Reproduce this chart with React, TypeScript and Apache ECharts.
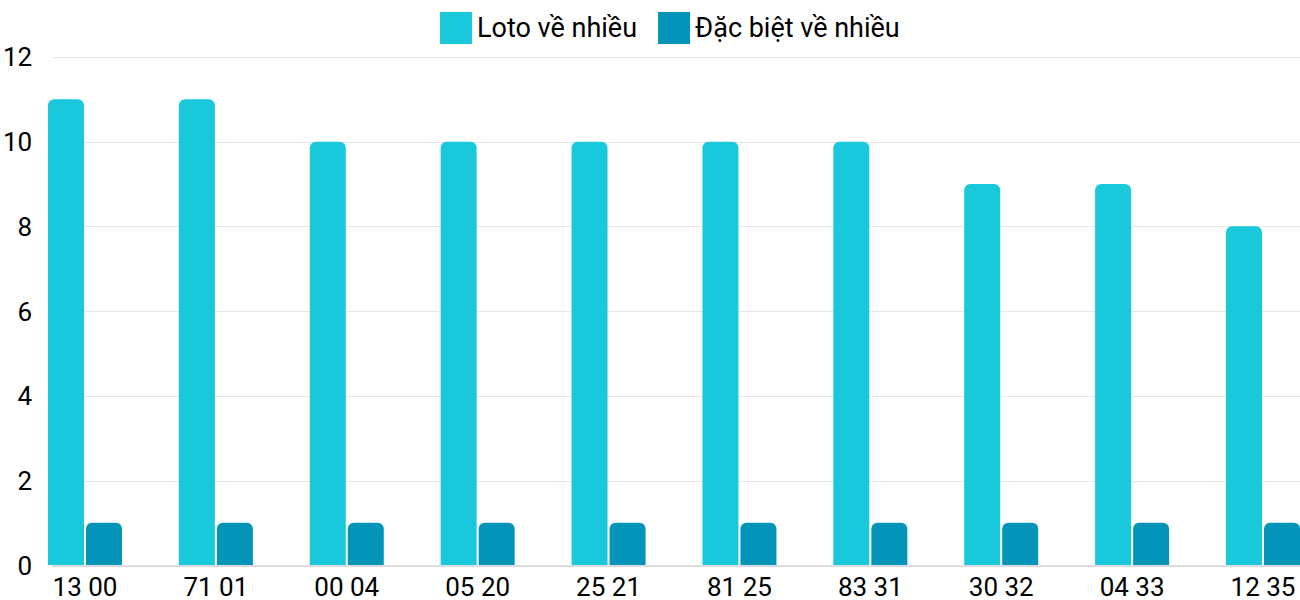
import { useEffect, useRef } from 'react';
import * as echarts from 'echarts';

const categories = ['13 00', '71 01', '00 04', '05 20', '25 21', '81 25', '83 31', '30 32', '04 33', '12 35'];
const lotoValues = [11, 11, 10, 10, 10, 10, 10, 9, 9, 8];
const specialValues = [1, 1, 1, 1, 1, 1, 1, 1, 1, 1];
const seriesNames = ['Loto về nhiều', 'Đặc biệt về nhiều'];

const FONT = 'Roboto';

export default function App() {
  const chartRef = useRef<HTMLDivElement>(null);

  useEffect(() => {
    if (!chartRef.current) return;
    const chart = echarts.init(chartRef.current, undefined, { renderer: 'svg' });

    chart.setOption({
      animation: false,
      textStyle: { fontFamily: FONT },
      legend: {
        data: seriesNames,
        left: 440,
        top: 12,
        padding: 0,
        icon: 'rect',
        itemWidth: 32,
        itemHeight: 32,
        itemGap: 21,
        textStyle: { fontSize: 27, color: '#000', fontFamily: FONT },
      },
      grid: [
        // bars, ticks at category centres
        { left: 85, right: 37, top: 57, bottom: 34 },
        // background frame: gridlines and y labels
        { left: 48, right: 0, top: 57, bottom: 34 },
      ],
      xAxis: [
        {
          type: 'category',
          gridIndex: 0,
          data: categories,
          boundaryGap: false,
          axisLine: { show: false },
          axisTick: { show: false },
          axisLabel: { color: '#000', fontSize: 26, margin: 9, fontFamily: FONT },
        },
        {
          type: 'value',
          gridIndex: 1,
          min: 0,
          max: 1,
          axisLine: { show: true, lineStyle: { color: '#d4d4d4', width: 1.5 } },
          axisTick: { show: false },
          axisLabel: { show: false },
          splitLine: { show: false },
        },
      ],
      yAxis: [
        {
          type: 'value',
          gridIndex: 0,
          min: 0,
          max: 12,
          interval: 2,
          axisLine: { show: false },
          axisTick: { show: false },
          axisLabel: { show: false },
          splitLine: { show: false },
        },
        {
          type: 'value',
          gridIndex: 1,
          min: 0,
          max: 12,
          interval: 2,
          axisLine: { show: false },
          axisTick: { show: false },
          axisLabel: { color: '#000', fontSize: 26, margin: 20, fontFamily: FONT },
          splitLine: { lineStyle: { color: '#e6e6e6', width: 1 } },
        },
      ],
      series: [
        {
          name: seriesNames[0],
          type: 'bar',
          xAxisIndex: 0,
          yAxisIndex: 0,
          data: lotoValues,
          barWidth: 36,
          barGap: '5.6%',
          clip: false,
          itemStyle: { color: '#1ac8db', borderRadius: [6, 6, 0, 0] },
        },
        {
          name: seriesNames[1],
          type: 'bar',
          xAxisIndex: 0,
          yAxisIndex: 0,
          data: specialValues,
          barWidth: 36,
          clip: false,
          itemStyle: { color: '#0494b9', borderRadius: [6, 6, 0, 0] },
        },
      ],
    });

    return () => {
      chart.dispose();
    };
  }, []);

  return (
    <div
      ref={chartRef}
      style={{ position: 'fixed', left: 0, top: 0, width: 1300, height: 600, background: '#fff' }}
    />
  );
}
